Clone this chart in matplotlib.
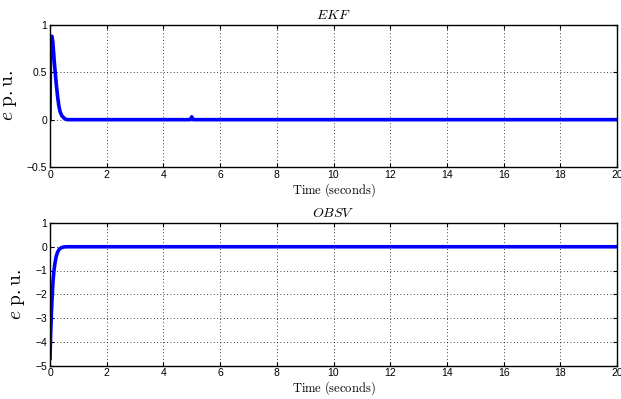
import matplotlib
matplotlib.use("Agg")
import matplotlib.pyplot as plt

plt.rcParams['mathtext.fontset'] = 'cm'
plt.rcParams['font.family'] = ['Liberation Sans', 'DejaVu Sans']

# EKF error
ekf_t = [0.0, 0.02, 0.05, 0.07, 0.10, 0.13, 0.16, 0.19, 0.23, 0.27, 0.31, 0.36, 0.42, 0.50, 0.60,
         1.0, 2.0, 3.0, 4.0, 4.95, 5.0, 5.05, 6.0, 8.0, 10.0, 12.0, 14.0, 16.0, 18.0, 20.0]
ekf_e = [0.0, 0.80, 0.88, 0.88, 0.82, 0.70, 0.58, 0.48, 0.35, 0.24, 0.15, 0.08, 0.04, 0.015, 0.0,
         0.0, 0.0, 0.0, 0.0, 0.0, 0.03, 0.0, 0.0, 0.0, 0.0, 0.0, 0.0, 0.0, 0.0, 0.0]

# Observer error
obs_t = [0.0, 0.02, 0.05, 0.08, 0.11, 0.14, 0.18, 0.22, 0.27, 0.33, 0.40, 0.48, 0.60,
         1.0, 2.0, 4.0, 6.0, 8.0, 10.0, 12.0, 14.0, 16.0, 18.0, 20.0]
obs_e = [-4.7, -3.8, -2.8, -2.0, -1.4, -1.0, -0.65, -0.4, -0.22, -0.1, -0.04, -0.01, 0.0,
         0.0, 0.0, 0.0, 0.0, 0.0, 0.0, 0.0, 0.0, 0.0, 0.0, 0.0]

titles = ['$EKF$', '$OBSV$']
xticks = [0, 2, 4, 6, 8, 10, 12, 14, 16, 18, 20]
ekf_yticks = [-0.5, 0, 0.5, 1]
ekf_yticklabels = ['\u22120.5', '0', '0.5', '1']
obs_yticks = [-5, -4, -3, -2, -1, 0, 1]
obs_yticklabels = ['\u22125', '\u22124', '\u22123', '\u22122', '\u22121', '0', '1']

fig = plt.figure(figsize=(6.21, 3.99), dpi=100)
ax1 = fig.add_axes([50/621, 1-167/399, 567/621, 142/399])
ax2 = fig.add_axes([50/621, 1-365.5/399, 567/621, 142.5/399])

specs = [(ax1, ekf_t, ekf_e, (-0.5, 1), ekf_yticks, ekf_yticklabels, titles[0]),
         (ax2, obs_t, obs_e, (-5, 1), obs_yticks, obs_yticklabels, titles[1])]

for ax, t, e, ylim, yt, ytl, title in specs:
    ax.plot(t, e, color='#0000ff', lw=2.6, solid_joinstyle='round')
    ax.set_xlim(0, 20)
    ax.set_ylim(*ylim)
    ax.set_xticks(xticks)
    ax.set_yticks(yt)
    ax.set_yticklabels(ytl)
    ax.grid(True, color='black', linestyle=(0, (1, 3)), linewidth=0.6)
    ax.tick_params(direction='in', top=True, right=True, labelsize=7.5, length=3, width=0.8, pad=2)
    for s in ax.spines.values():
        s.set_linewidth(1.0)
    ax.set_title(title, fontsize=10, pad=4)
    ax.set_xlabel(r'$\mathrm{Time\ (seconds)}$', fontsize=9, labelpad=1)
    ax.set_ylabel(r'$e\ \mathrm{p.u.}$', fontsize=14, labelpad=6)

fig.savefig('out.png', dpi=100)
